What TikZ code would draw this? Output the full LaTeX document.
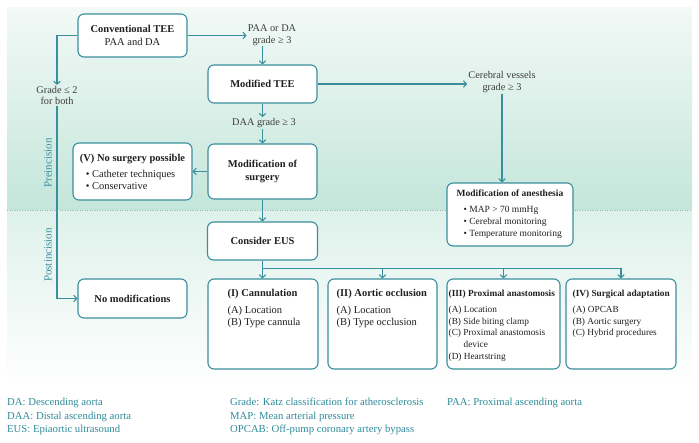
\documentclass[tikz,border=0pt]{standalone}
\usepackage{fontspec}
\setmainfont{Liberation Serif}
\usetikzlibrary{arrows.meta}
\definecolor{tl}{RGB}{58,142,158}
\definecolor{legc}{RGB}{46,139,154}
\definecolor{txt}{RGB}{35,31,32}
\definecolor{lblc}{RGB}{60,60,60}
\definecolor{bgtop}{RGB}{242,249,246}
\definecolor{bgmid}{RGB}{196,230,218}
\definecolor{bglow}{RGB}{222,241,235}
\definecolor{dotc}{RGB}{150,185,180}
\newcommand\myfA{\fontsize{10.5}{13}\selectfont}
\newcommand\myfB{\fontsize{10.5}{12}\selectfont}
\newcommand\myfC{\fontsize{9.5}{12}\selectfont}
\newcommand\myfD{\fontsize{9.3}{11.75}\selectfont}
\newcommand\myfL{\fontsize{10.3}{11.5}\selectfont}
\newcommand\myfG{\fontsize{10.7}{13.5}\selectfont}
\begin{document}
\begin{tikzpicture}[x=1pt,y=-1pt,
  box/.style={draw=tl, line width=1.1pt, rounded corners=6pt, fill=white, inner sep=0pt, text=txt},
  content/.style={anchor=north west, align=left, inner sep=0pt, text=txt},
  lbl/.style={font=\myfL, text=lblc, align=center, inner sep=1pt},
  ln/.style={draw=tl, line width=1.1pt},
  arr/.style={draw=tl, line width=1.1pt, -{Straight Barb[length=3pt,width=6.5pt]}},
  leg/.style={anchor=base west, inner sep=0pt, text=legc, font=\myfG},
  side/.style={rotate=90, text=tl, font=\fontsize{11}{13}\selectfont, inner sep=0pt}]
\useasboundingbox (0,0) rectangle (699,442);
% background panels
\shade[top color=bgtop, bottom color=bgmid] (7,7) rectangle (692,210);
\shade[top color=bglow, bottom color=white] (7,210) rectangle (692,388);
\draw[dotc, line width=0.8pt, dash pattern=on 1pt off 1.5pt] (7,210) -- (692,210);
% side labels
\node[side] (pre) at (48,163) {Preincision};
\node[side] (post) at (48,255) {Postincision};
% nodes
\node[box, minimum width=109pt, minimum height=43pt, align=center, font=\myfA] (conv) at (132.5,35.5) {\textbf{Conventional TEE}\\PAA and DA};
\node[lbl] (paa) at (272,35) {PAA or DA\\grade ≥ 3};
\node[box, minimum width=109pt, minimum height=38pt, font=\myfA\bfseries] (modtee) at (262.5,84) {Modified TEE};
\node[lbl] (cer) at (502,82) {Cerebral vessels\\grade ≥ 3};
\node[lbl] (daa) at (264,123) {DAA grade ≥ 3};
\node[box, minimum width=109pt, minimum height=55pt, align=center, font=\myfA\bfseries] (modsurg) at (262.5,171.5) {Modification of\\surgery};
\node[box, minimum width=119pt, minimum height=57pt, align=left, font=\myfB] (nosurg) at (132.5,171.5) {\textbf{(V) No surgery possible}\\[4pt]\hspace*{6pt}• Catheter techniques\\\hspace*{6pt}• Conservative};
\node[box, minimum width=126pt, minimum height=63pt, align=left, font=\myfC] (anes) at (510,214.5) {\textbf{Modification of anesthesia}\\[4pt]\hspace*{7pt}• MAP > 70 mmHg\\\hspace*{7pt}• Cerebral monitoring\\\hspace*{7pt}• Temperature monitoring};
\node[lbl] (grade) at (57,95.5) {Grade ≤ 2\\for both};
\node[box, minimum width=109pt, minimum height=39pt, font=\myfA\bfseries] (nomod) at (132.5,298.5) {No modifications};
\node[box, minimum width=110pt, minimum height=38pt, font=\myfA\bfseries] (eus) at (262.5,241) {Consider EUS};
\node[box, minimum width=110pt, minimum height=90pt] (cann) at (263,324) {};
\node[box, minimum width=109pt, minimum height=90pt] (aort) at (382.5,324) {};
\node[box, minimum width=113pt, minimum height=90pt] (prox) at (503.5,324) {};
\node[box, minimum width=110pt, minimum height=90pt] (surg) at (621,324) {};
\node[content, font=\myfB] (cannT) at ([xshift=20pt,yshift=-11pt]cann.north west) {\textbf{(I) Cannulation}\\[5pt](A) Location\\(B) Type cannula};
\node[content, font=\myfB] (aortT) at ([xshift=9pt,yshift=-11pt]aort.north west) {\textbf{(II) Aortic occlusion}\\[5pt](A) Location\\(B) Type occlusion};
\node[content, font=\myfD] (proxT) at ([xshift=2pt,yshift=-11pt]prox.north west) {\textbf{(III) Proximal anastomosis}\\[4.5pt](A) Location\\(B) Side biting clamp\\(C) Proximal anastomosis\\\hspace*{15pt}device\\(D) Heartstring};
\node[content, font=\myfD] (surgT) at ([xshift=7pt,yshift=-11pt]surg.north west) {\textbf{(IV) Surgical adaptation}\\[4.5pt](A) OPCAB\\(B) Aortic surgery\\(C) Hybrid procedures};
% connectors
\draw[arr] (conv.east) -- (conv.east -| paa.west);
\draw[arr] (modtee.north |- paa.south) -- (modtee.north);
\draw[arr] (modtee.east) -- (modtee.east -| cer.west);
\draw[arr] (cer.south) -- (cer.south |- anes.north);
\draw[arr] (modtee.south) -- (modtee.south |- daa.north);
\draw[arr] (modtee.south |- daa.south) -- (modsurg.north);
\draw[arr] (modsurg.west) -- (nosurg.east);
\draw[arr] (modsurg.south) -- (eus.north);
\draw[arr] (conv.west) -| (grade.north);
\draw[arr] (grade.south) |- (nomod.west);
\path (eus.south) ++(0,8) coordinate (br);
\draw[arr] (eus.south) -- (eus.south |- cann.north);
\draw[arr] (br) -| (surg.north);
\draw[arr] (br -| aort.north) -- (aort.north);
\draw[arr] (br -| prox.north) -- (prox.north);
% legend
\node[leg] (l1) at (7,405.5) {DA: Descending aorta};
\node[leg] (l2) at (7,419) {DAA: Distal ascending aorta};
\node[leg] (l3) at (7,432.5) {EUS: Epiaortic ultrasound};
\node[leg] (l4) at (230,405.5) {Grade: Katz classification for atherosclerosis};
\node[leg] (l5) at (230,419) {MAP: Mean arterial pressure};
\node[leg] (l6) at (230,432.5) {OPCAB: Off-pump coronary artery bypass};
\node[leg] (l7) at (447,405.5) {PAA: Proximal ascending aorta};
\end{tikzpicture}
\end{document}
